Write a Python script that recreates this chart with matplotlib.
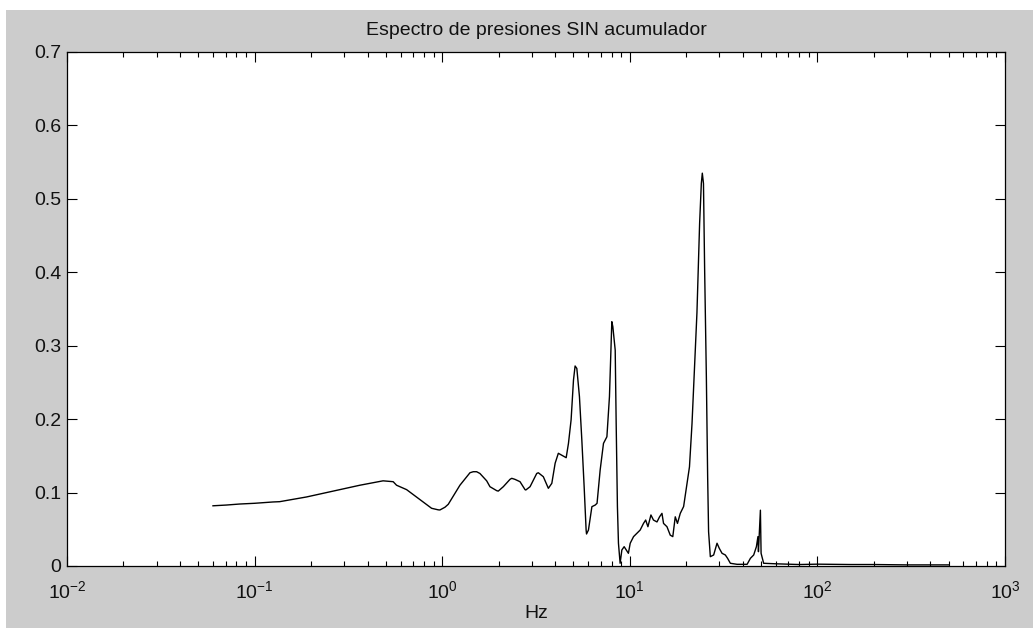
import matplotlib
matplotlib.use("Agg")
import matplotlib.pyplot as plt
from matplotlib.patches import Rectangle
from matplotlib.ticker import LogLocator, FixedLocator, NullFormatter

plt.rcParams['font.family'] = ['Liberation Sans', 'DejaVu Sans']
plt.rcParams['mathtext.fontset'] = 'custom'
plt.rcParams['mathtext.rm'] = 'Liberation Sans'
plt.rcParams['mathtext.it'] = 'Liberation Sans'
plt.rcParams['mathtext.bf'] = 'Liberation Sans'

# ---- data ----
freq_hz = [0.060, 0.0706, 0.0832, 0.100, 0.1253, 0.136, 0.189, 0.284, 0.364, 0.484,
           0.548, 0.571, 0.646, 0.760, 0.878, 0.952, 0.972, 1.034, 1.077, 1.243,
           1.406, 1.464, 1.526, 1.589, 1.726, 1.797, 1.952, 1.99, 2.117, 2.298,
           2.348, 2.443, 2.599, 2.764, 2.79, 2.94, 3.19, 3.254, 3.46, 3.68,
           3.84, 4.00, 4.16, 4.33, 4.58, 4.71, 4.865, 5.01, 5.11, 5.22,
           5.39, 5.55, 5.71, 5.85, 5.88, 6.02, 6.28, 6.54, 6.69, 6.95,
           7.24, 7.55, 7.79, 8.02, 8.12, 8.36, 8.46, 8.59, 8.70, 8.88,
           9.07, 9.33, 9.57, 9.83, 10.05, 10.47, 10.9, 11.36, 11.83, 12.15,
           12.49, 12.96, 13.37, 13.96, 14.41, 14.84, 15.13, 15.78, 16.43, 16.95,
           17.47, 17.95, 18.58, 19.36, 20.18, 20.8, 21.46, 21.87, 22.34, 22.8,
           23.1, 23.56, 24.06, 24.35, 24.7, 25.06, 25.59, 26.0, 26.3, 26.87,
           27.99, 29.17, 30.0, 31.02, 32.3, 33.2, 34.36, 37.3, 42.2, 43.95,
           45.75, 47.3, 48.2, 48.5, 49.68, 50.1, 51.7, 60.0, 80.0, 100.0,
           150.0, 200.0, 300.0, 400.0, 500.0]
pressure = [0.082, 0.083, 0.0844, 0.0854, 0.0872, 0.0876, 0.0940, 0.1040, 0.110, 0.116,
            0.1148, 0.110, 0.1040, 0.0905, 0.0786, 0.0765, 0.0763, 0.0800, 0.0840, 0.110,
            0.127, 0.1284, 0.1284, 0.126, 0.116, 0.108, 0.1026, 0.102, 0.108, 0.118,
            0.1194, 0.118, 0.1148, 0.1040, 0.1035, 0.108, 0.126, 0.127, 0.1216, 0.1058,
            0.1126, 0.140, 0.1535, 0.151, 0.1475, 0.167, 0.199, 0.2533, 0.2724, 0.269,
            0.2306, 0.1716, 0.108, 0.049, 0.0436, 0.049, 0.0808, 0.083, 0.0854, 0.1307,
            0.167, 0.176, 0.2306, 0.3327, 0.326, 0.294, 0.194, 0.081, 0.031, 0.0037,
            0.0218, 0.0263, 0.0218, 0.0173, 0.031, 0.040, 0.0445, 0.049, 0.058, 0.0626,
            0.0535, 0.0695, 0.0626, 0.060, 0.067, 0.0717, 0.058, 0.0535, 0.042, 0.040,
            0.067, 0.058, 0.0717, 0.081, 0.1126, 0.135, 0.194, 0.2397, 0.294, 0.345,
            0.394, 0.4667, 0.521, 0.535, 0.521, 0.403, 0.258, 0.1216, 0.0467, 0.0127,
            0.015, 0.031, 0.024, 0.0173, 0.015, 0.0105, 0.0037, 0.0023, 0.0023, 0.0105,
            0.015, 0.0263, 0.040, 0.0195, 0.076, 0.0173, 0.0037, 0.003, 0.002, 0.0025,
            0.002, 0.002, 0.0015, 0.0015, 0.0015]
y_ticks = [0, 0.1, 0.2, 0.3, 0.4, 0.5, 0.6, 0.7]
y_tick_labels = ['0', '0.1', '0.2', '0.3', '0.4', '0.5', '0.6', '0.7']
title_text = 'Espectro de presiones SIN acumulador'
x_label = 'Hz'

W, H = 1033, 628
fig = plt.figure(figsize=(W / 100, H / 100), dpi=100, facecolor='white')
fig.patches.append(Rectangle((6 / W, 0), 1 - 6 / W, (H - 10) / H,
                             transform=fig.transFigure, facecolor='#cccccc',
                             edgecolor='none', zorder=-10))

ax = fig.add_axes([67 / W, (H - 566) / H, (1005 - 67) / W, (566 - 52) / H])
ax.set_facecolor('white')
ax.plot(freq_hz, pressure, color='black', lw=1.0)
ax.set_xscale('log')
ax.set_xlim(1e-2, 1e3)
ax.set_ylim(0, 0.7)
ax.yaxis.set_major_locator(FixedLocator(y_ticks))
ax.set_yticklabels(y_tick_labels)
ax.xaxis.set_major_locator(LogLocator(base=10, numticks=10))
ax.xaxis.set_minor_locator(LogLocator(base=10, subs=range(2, 10), numticks=20))
ax.xaxis.set_minor_formatter(NullFormatter())

for s in ax.spines.values():
    s.set_linewidth(0.9)
    s.set_color('black')

ax.tick_params(which='both', direction='in', top=True, right=True,
               colors='black', labelcolor='#111111')
ax.tick_params(which='major', length=7, width=0.8, labelsize=14)
ax.tick_params(axis='y', which='major', pad=4)
ax.tick_params(axis='x', which='major', pad=10)
ax.tick_params(which='minor', length=3.6, width=0.8)

ax.set_title(title_text, fontsize=14, pad=12, color='#111111')
ax.set_xlabel(x_label, fontsize=14, labelpad=2, color='#111111')

fig.savefig('out.png', dpi=100, facecolor=fig.get_facecolor())
